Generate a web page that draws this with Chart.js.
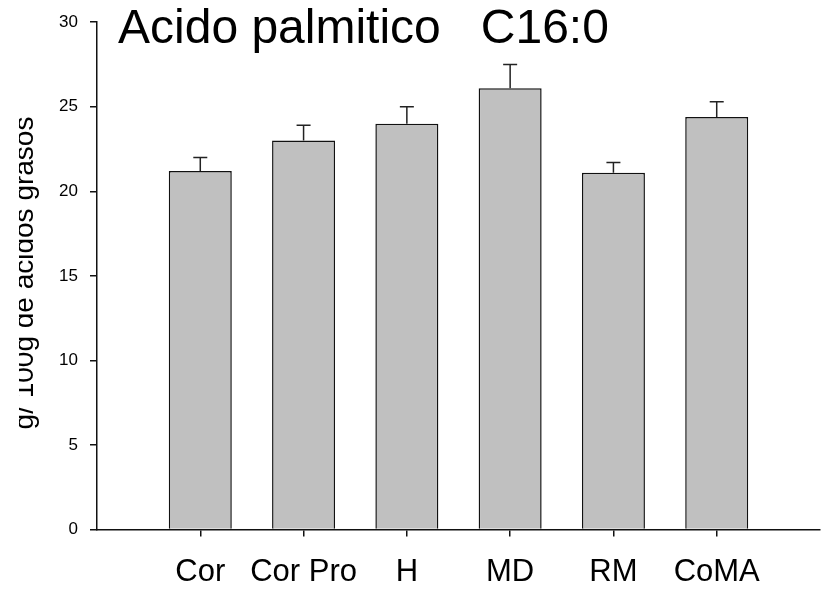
<!DOCTYPE html>
<html>
<head>
<meta charset="utf-8">
<script src="https://cdn.jsdelivr.net/npm/chart.js@4/dist/chart.umd.min.js"></script>
<style>
  body { margin: 0; background: #fff; }
  #wrap { width: 828px; height: 589px; }
</style>
</head>
<body>
<div id="wrap"><canvas id="palmiticoCanvas" width="828" height="589"></canvas></div>
<script>
const categories = ['Cor', 'Cor Pro', 'H', 'MD', 'RM', 'CoMA'];
const means = [21.2, 23.0, 24.0, 26.1, 21.1, 24.4];
const errors = [0.8, 0.9, 1.0, 1.4, 0.6, 0.9];
const yTicks = [0, 5, 10, 15, 20, 25, 30];

const FONT = '"Liberation Sans", Arial, sans-serif';

// upward-only error bars, drawn through the scales
const errorBars = {
  id: 'errorBars',
  afterDatasetsDraw(chart) {
    const ctx = chart.ctx, x = chart.scales.x, y = chart.scales.y;
    ctx.save();
    ctx.strokeStyle = '#222';
    ctx.lineWidth = 1.5;
    means.forEach((m, i) => {
      const px = x.getPixelForValue(i);
      const top = y.getPixelForValue(m);
      const end = y.getPixelForValue(m + errors[i]);
      ctx.beginPath();
      ctx.moveTo(px, top);
      ctx.lineTo(px, end);
      ctx.moveTo(px - 7, end);
      ctx.lineTo(px + 7, end);
      ctx.stroke();
    });
    ctx.restore();
  }
};

// title drawn inside the plot, and the clipped axis title
const texts = {
  id: 'texts',
  afterDraw(chart) {
    const ctx = chart.ctx, area = chart.chartArea;
    ctx.save();
    ctx.fillStyle = '#000';
    ctx.font = '48px ' + FONT;
    ctx.textAlign = 'left';
    ctx.textBaseline = 'alphabetic';
    ctx.fillText('Acido palmitico   C16:0', area.left + 21, 43);
    ctx.restore();

    ctx.save();
    ctx.beginPath();
    ctx.rect(19, 0, chart.width, chart.height);
    ctx.clip();
    ctx.translate(33, 273);
    ctx.rotate(-Math.PI / 2);
    ctx.fillStyle = '#000';
    ctx.font = '28px ' + FONT;
    ctx.textAlign = 'center';
    ctx.textBaseline = 'alphabetic';
    ctx.fillText('g/ 100g de acidos grasos', 0, 0);
    ctx.restore();
  }
};

new Chart(document.getElementById('palmiticoCanvas'), {
  type: 'bar',
  data: {
    datasets: [{
      data: categories.map((c, i) => ({ x: i, y: means[i] })),
      backgroundColor: '#c0c0c0',
      borderColor: '#111',
      borderWidth: 1.5,
      borderSkipped: 'bottom',
      categoryPercentage: 1,
      barPercentage: 0.61
    }]
  },
  options: {
    responsive: false,
    animation: false,
    layout: { padding: { top: 18, right: 8, left: 0, bottom: 0 } },
    plugins: { legend: { display: false }, tooltip: { enabled: false }, title: { display: false } },
    scales: {
      x: {
        type: 'linear',
        min: -1,
        max: 6,
        offset: false,
        afterBuildTicks: s => { s.ticks = categories.map((c, i) => ({ value: i })); },
        afterFit: s => { s.height = 59.5; },
        grid: { offset: false, drawOnChartArea: false, drawTicks: true, tickLength: 7, color: '#111', lineWidth: 1.5 },
        border: { display: true, color: '#111', width: 1.5 },
        ticks: {
          autoSkip: false,
          maxRotation: 0,
          padding: 17,
          color: '#000',
          font: { family: FONT, size: 31 },
          callback: v => categories[v]
        }
      },
      y: {
        min: 0,
        max: 30,
        afterBuildTicks: s => { s.ticks = yTicks.map(v => ({ value: v })); },
        afterFit: s => { s.width = 97; },
        grid: { drawOnChartArea: false, drawTicks: true, tickLength: 7, color: '#111', lineWidth: 1.5 },
        border: { display: true, color: '#111', width: 1.5 },
        ticks: {
          padding: 12,
          color: '#000',
          font: { family: FONT, size: 17 }
        }
      }
    }
  },
  plugins: [errorBars, texts]
});
</script>
</body>
</html>
